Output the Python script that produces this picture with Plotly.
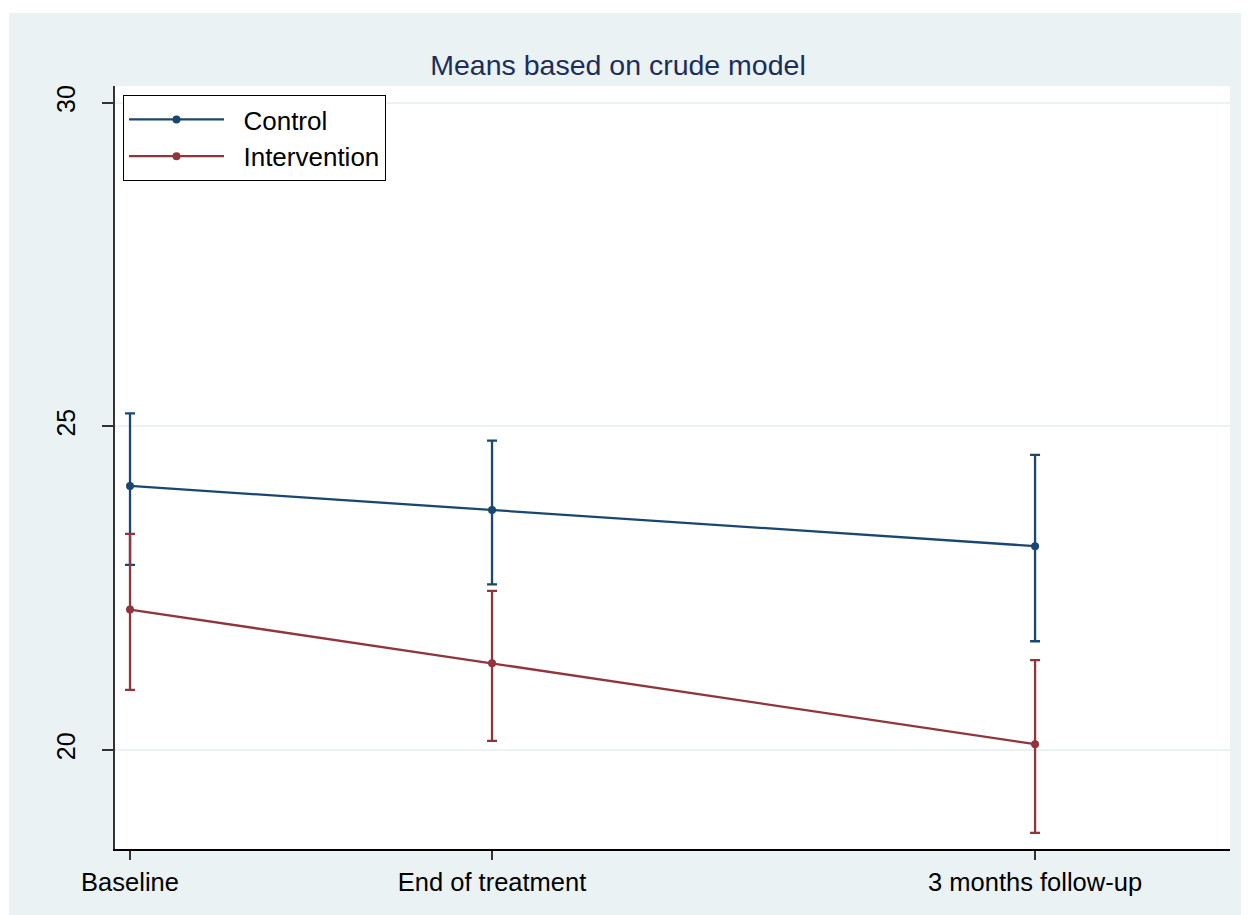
import plotly.graph_objects as go

# Data
timepoints = ["Baseline", "End of treatment", "3 months follow-up"]
months = [0, 2, 5]

control_mean = [24.08, 23.71, 23.15]
control_lo = [22.86, 22.56, 21.68]
control_hi = [25.20, 24.78, 24.56]

interv_mean = [22.17, 21.34, 20.09]
interv_lo = [20.93, 20.14, 18.72]
interv_hi = [23.34, 22.46, 21.39]

y_ticks = [20, 25, 30]

C_CTRL = "#1A476F"
C_INT = "#90353B"
BG = "#EAF2F3"
FONT = "Arial, Liberation Sans, sans-serif"
PAD = "\u00a0\u00a0"

fig = go.Figure()

def add(name, mean, lo, hi, color, grp):
    fig.add_trace(go.Scatter(
        x=months, y=mean, name=PAD + name, mode="lines+markers",
        legendgroup=grp,
        line=dict(color=color, width=2.3),
        marker=dict(color=color, size=8),
        error_y=dict(type="data", symmetric=False,
                     array=[h - m for h, m in zip(hi, mean)],
                     arrayminus=[m - l for m, l in zip(mean, lo)],
                     color=color, thickness=2.3, width=5),
    ))

add("Control", control_mean, control_lo, control_hi, C_CTRL, "a")
add("Intervention", interv_mean, interv_lo, interv_hi, C_INT, "b")

# page has 8px body margin; figure coordinates below are page coords - 8
L, R, T, B = 107, 19, 78, 66
W, H = 1241, 907
pw, ph = W - L - R, H - T - B

def px_x(p):
    return (p - L) / pw

def px_y(p):
    return (H - B - p) / ph

shapes = [
    dict(type="rect", xref="paper", yref="paper", layer="below",
         x0=px_x(-20), x1=px_x(W + 20), y0=px_y(5), y1=px_y(-20),
         fillcolor="white", line=dict(width=0)),
    dict(type="rect", xref="paper", yref="paper", layer="below",
         x0=px_x(-20), x1=px_x(1), y0=px_y(H + 20), y1=px_y(-20),
         fillcolor="white", line=dict(width=0)),
]

fig.update_layout(
    width=W, height=H,
    margin=dict(l=L, r=R, t=T, b=B),
    paper_bgcolor=BG, plot_bgcolor="white",
    shapes=shapes,
    title=dict(text="Means based on crude model", x=610 / W, xref="container",
               xanchor="center", y=1 - 57 / H, yref="container", yanchor="middle",
               font=dict(family=FONT, size=28.5, color="#1E2D5A")),
    font=dict(family=FONT, color="black"),
    showlegend=True,
    legend=dict(x=px_x(115), y=px_y(87), xanchor="left", yanchor="top",
                bgcolor="white", bordercolor="black", borderwidth=1,
                font=dict(family=FONT, size=26, color="black"),
                itemwidth=95, tracegroupgap=0, traceorder="grouped"),
    xaxis=dict(range=[-0.083, 6.077], tickmode="array", tickvals=months,
               ticktext=timepoints, showgrid=False, zeroline=False,
               showline=True, linecolor="black", linewidth=2,
               ticks="outside", ticklen=9, tickwidth=1.5, tickcolor="#333",
               tickfont=dict(family=FONT, size=25.5, color="black")),
    yaxis=dict(range=[18.47, 30.26], tickmode="array", tickvals=y_ticks,
               showgrid=True, gridcolor=BG, gridwidth=2, zeroline=False,
               showline=True, linecolor="#333", linewidth=2,
               ticks="outside", ticklen=11, tickwidth=1.5, tickcolor="#333",
               tickangle=-90, ticklabelstandoff=17,
               tickfont=dict(family=FONT, size=25, color="black")),
)

fig.write_html("out.html")
